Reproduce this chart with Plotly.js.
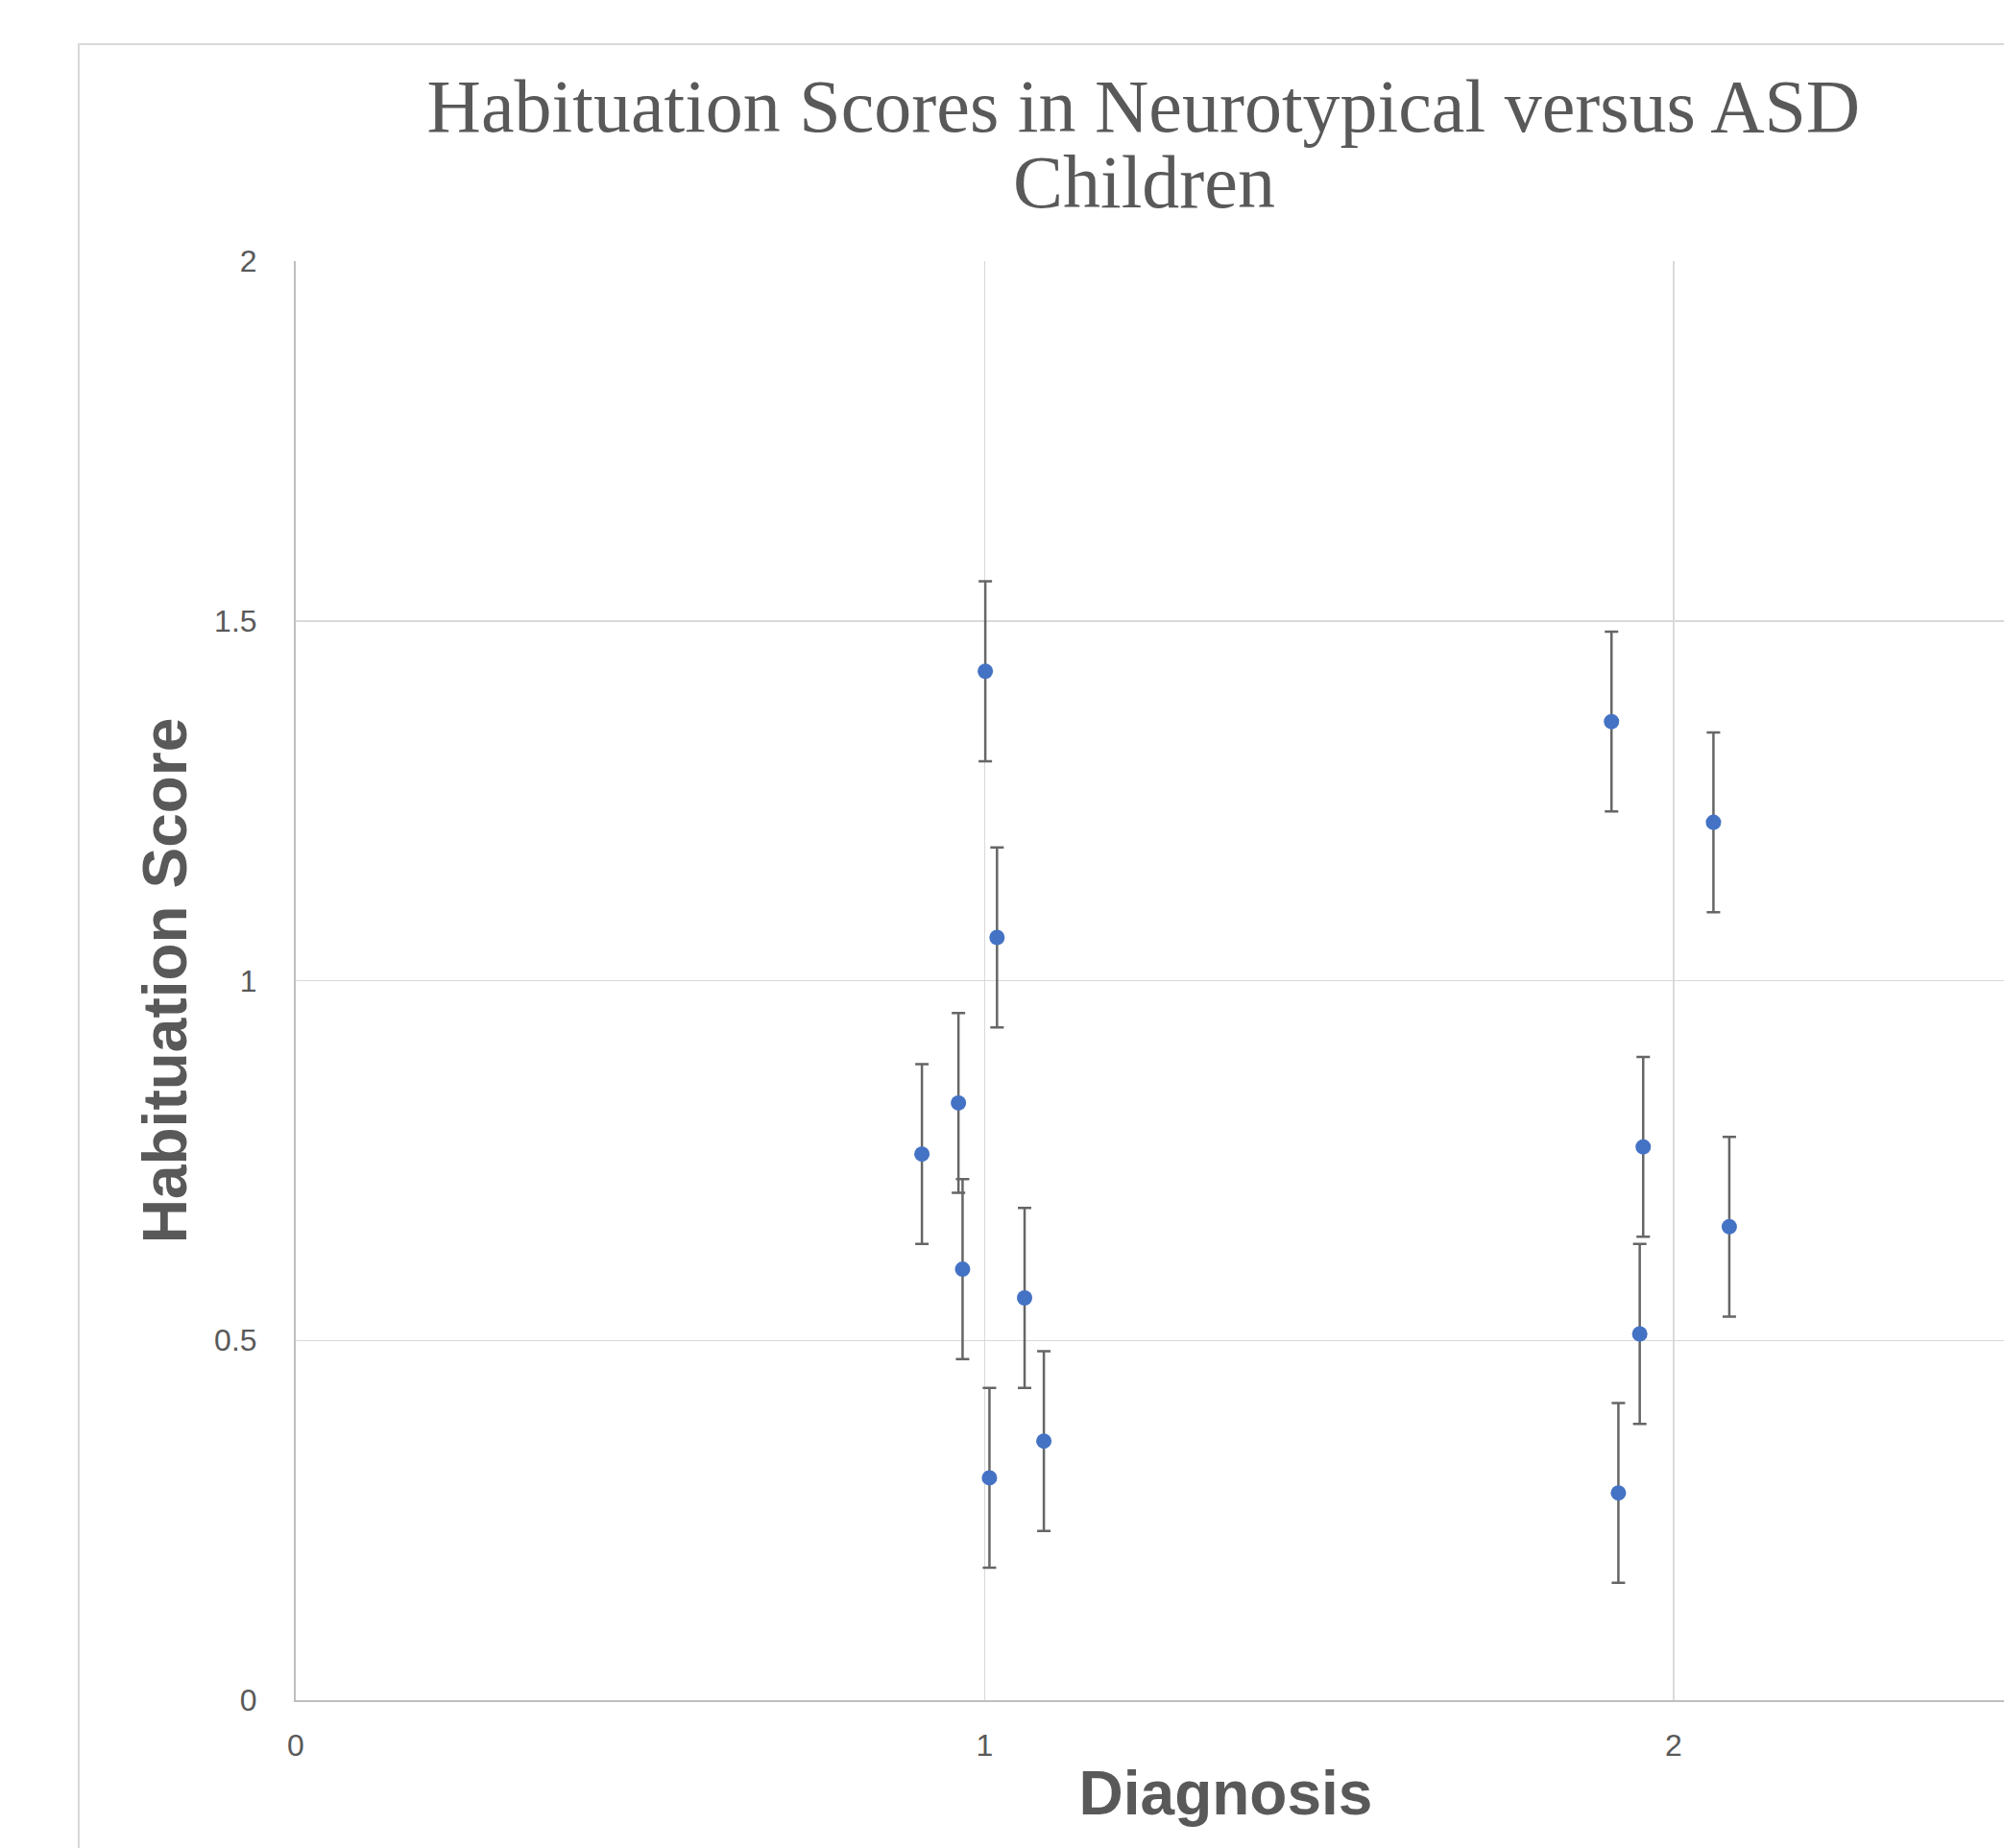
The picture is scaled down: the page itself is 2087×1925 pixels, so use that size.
<!DOCTYPE html>
<html>
<head>
<meta charset="utf-8">
<script src="https://cdn.plot.ly/plotly-3.0.1.min.js"></script>
<style>
  html, body { margin: 0; padding: 0; background: #ffffff; overflow: hidden; width: 2087px; height: 1925px; }
  #frame { position: absolute; left: 81px; top: 45px; width: 2300px; height: 1900px;
           border-left: 2px solid #d9d9d9; border-top: 2px solid #d9d9d9; background: #fff; }
  #chart { width: 2300px; height: 1900px; }
</style>
</head>
<body>
<div id="frame"><div id="chart"></div></div>
<script>
// Data
const diagnosisX = [0.909, 0.962, 0.968, 1.001, 1.018, 1.007, 1.058, 1.086,
                    1.910, 1.920, 1.951, 1.956, 2.058, 2.081];
const habituationScore = [0.759, 0.830, 0.599, 1.430, 1.060, 0.309, 0.559, 0.360,
                          1.360, 0.288, 0.509, 0.769, 1.220, 0.658];
const scoreError = [0.125, 0.125, 0.125, 0.125, 0.125, 0.125, 0.125, 0.125,
                    0.125, 0.125, 0.125, 0.125, 0.125, 0.125];
const xTickVals = [0, 1, 2];
const xTickText = ['0', '1', '2'];
const yTickVals = [0, 0.5, 1, 1.5, 2];
const yTickText = ['0', '0.5', '1', '1.5', '2'];

const chartTitleLine1 = 'Habituation Scores in Neurotypical versus ASD';
const chartTitleLine2 = 'Children';
const xTitle = 'Diagnosis';
const yTitle = 'Habituation Score';

const trace = {
  type: 'scatter',
  mode: 'markers',
  x: diagnosisX,
  y: habituationScore,
  marker: { color: '#4472C4', size: 16 },
  error_y: { type: 'data', array: scoreError, visible: true, color: '#666666', thickness: 2.5, width: 7 },
  showlegend: false,
  hoverinfo: 'x+y'
};

const titleFont = { family: 'Liberation Serif, Times New Roman, serif', size: 78, color: '#595959' };
const tickFont = { family: 'Liberation Sans, Arial, sans-serif', size: 32, color: '#595959' };
const axTitleFont = { family: 'Liberation Sans, Arial, sans-serif', size: 64, color: '#595959', weight: 'bold' };

const layout = {
  width: 2300,
  height: 1900,
  paper_bgcolor: '#ffffff',
  plot_bgcolor: '#ffffff',
  margin: { l: 225, r: 138, t: 225, b: 176 },
  title: {
    text: chartTitleLine1,
    font: titleFont,
    xref: 'container', x: 0.4817, xanchor: 'center',
    yref: 'container', y: 0.9671, yanchor: 'middle'
  },
  annotations: [{
    text: chartTitleLine2,
    font: titleFont,
    xref: 'paper', x: 0.4559, xanchor: 'center',
    yref: 'paper', y: 1.055, yanchor: 'middle',
    showarrow: false
  }],
  xaxis: {
    range: [0, 2.7],
    tickmode: 'array', tickvals: xTickVals, ticktext: xTickText,
    showgrid: true, gridcolor: '#d9d9d9', gridwidth: 1.5,
    zeroline: false,
    showline: true, linecolor: '#bfbfbf', linewidth: 2,
    ticks: 'outside', ticklen: 18, tickcolor: 'rgba(0,0,0,0)',
    tickfont: tickFont,
    title: { text: xTitle, font: axTitleFont, standoff: 10 },
    automargin: false, fixedrange: true
  },
  yaxis: {
    range: [0, 2],
    tickmode: 'array', tickvals: yTickVals, ticktext: yTickText,
    showgrid: true, gridcolor: '#d9d9d9', gridwidth: 1.5,
    zeroline: false,
    showline: true, linecolor: '#bfbfbf', linewidth: 2,
    ticks: 'outside', ticklen: 32, tickcolor: 'rgba(0,0,0,0)',
    tickfont: tickFont,
    title: { text: yTitle, font: axTitleFont, standoff: 8 },
    automargin: false, fixedrange: true
  }
};

Plotly.newPlot('chart', [trace], layout, { displayModeBar: false, staticPlot: true });
</script>
</body>
</html>
